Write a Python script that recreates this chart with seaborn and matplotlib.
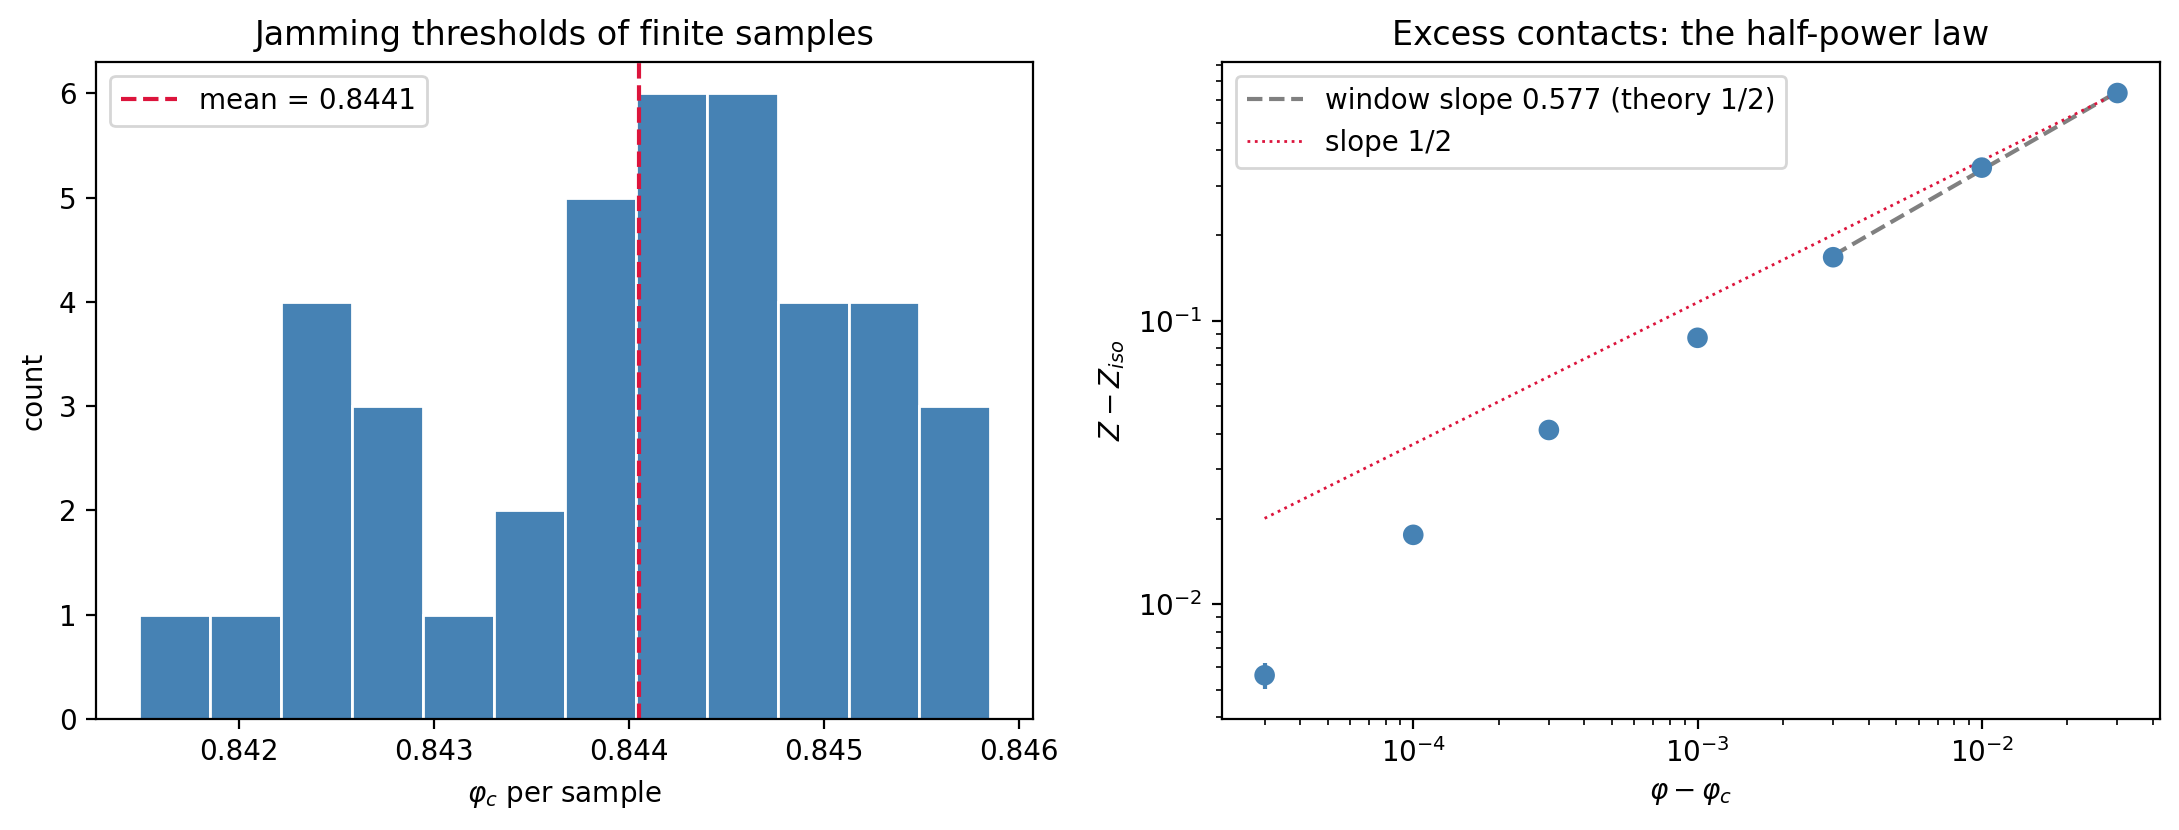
import numpy as np
import matplotlib
matplotlib.use("Agg")
import matplotlib.pyplot as plt
import seaborn as sns

# --- data ---
# jamming threshold per sample (40 samples)
phi_c_samples = [
    0.841485,
    0.842010,
    0.842290, 0.842380, 0.842450, 0.842530,
    0.842640, 0.842760, 0.842880,
    0.843120,
    0.843420, 0.843560,
    0.843710, 0.843790, 0.843860, 0.843930, 0.844000,
    0.844080, 0.844140, 0.844200, 0.844260, 0.844320, 0.844370,
    0.844445, 0.844505, 0.844575, 0.844635, 0.844695, 0.844745,
    0.844815, 0.844905, 0.844985, 0.845075,
    0.845200, 0.845290, 0.845380, 0.845470,
    0.845560, 0.845760, 0.845853,
]
n_bins = 12

# excess contacts vs distance from jamming
dphi = [3e-5, 1e-4, 3e-4, 1e-3, 3e-3, 1e-2, 3e-2]
dz = [0.00562, 0.01758, 0.0412, 0.0871, 0.1676, 0.347, 0.636]
dz_err = [0.0006, 0.0004, 0.0006, 0.0008, 0.0012, 0.002, 0.004]

# fitted window (last three points) and slope-1/2 reference
fit_x = [3e-3, 3e-2]
fit_y = [0.170, 0.642]
fit_slope = 0.577
ref_x = [3e-5, 3e-2]
ref_y = [0.0201, 0.636]

blue = "steelblue"
red = "crimson"

fig = plt.figure(figsize=(2179 / 200, 830 / 200), dpi=200)
ax1 = fig.add_axes([0.0441, 0.1337, 0.4300, 0.7916])
ax2 = fig.add_axes([0.5608, 0.1337, 0.4305, 0.7916])

# --- left: histogram of thresholds ---
sns.histplot(x=phi_c_samples, bins=n_bins, color=blue, alpha=1,
             edgecolor="white", linewidth=1, ax=ax1)
mean_phi = np.mean(phi_c_samples)
ax1.axvline(mean_phi, color=red, ls="--", lw=1.5, label=f"mean = {mean_phi:.4f}")
ax1.set_xlabel(r"$\varphi_c$ per sample")
ax1.set_ylabel("count")
ax1.set_title("Jamming thresholds of finite samples")
ax1.legend(loc="upper left")

# --- right: log-log excess contacts ---
ax2.errorbar(dphi, dz, yerr=dz_err, fmt="none", ecolor=blue, elinewidth=1.5, zorder=2)
sns.scatterplot(x=dphi, y=dz, color=blue, s=55, edgecolor="none", zorder=3, ax=ax2)
ax2.plot(fit_x, fit_y, color="gray", ls="--", lw=1.5,
         label=f"window slope {fit_slope:.3f} (theory 1/2)")
ax2.plot(ref_x, ref_y, color=red, ls=":", lw=1, label="slope 1/2")
ax2.set_xscale("log")
ax2.set_yscale("log")
ax2.set_xlabel(r"$\varphi - \varphi_c$")
ax2.set_ylabel(r"$Z - Z_{iso}$")
ax2.set_title("Excess contacts: the half-power law")
ax2.legend(loc="upper left")

fig.savefig("out.png", dpi=200)
